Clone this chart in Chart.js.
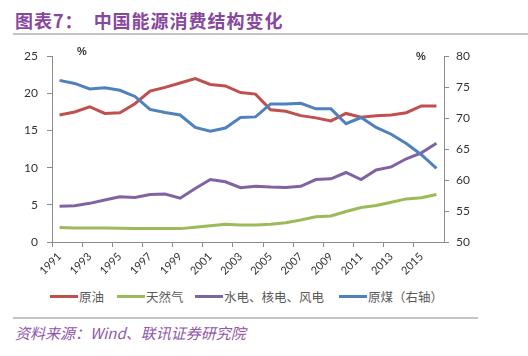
<!DOCTYPE html>
<html>
<head>
<meta charset="utf-8">
<script src="https://cdn.jsdelivr.net/npm/chart.js@4/dist/chart.umd.min.js"></script>
<style>
  html, body { margin:0; padding:0; background:#fff; }
  body { width:528px; height:356px; position:relative; overflow:hidden; font-family:"Noto Sans CJK SC","Noto Sans",sans-serif; }
  #title { position:absolute; left:15px; top:7px; font-size:18px; font-weight:bold; color:#87479d; white-space:nowrap; letter-spacing:1px; }
  #title .t2 { margin-left:10px; }
  .rule { position:absolute; height:2px; background:#c4c4c4; }
  #chartWrap { position:absolute; left:0; top:40px; width:528px; height:240px; }
  .pct { position:absolute; font-family:"Liberation Sans",sans-serif; font-size:11px; font-weight:bold; color:#333; }
  #legend { position:absolute; left:0; top:286px; width:528px; height:20px; }
  .lg-line { position:absolute; height:3px; top:9px; width:28px; }
  .lg-text { position:absolute; top:1px; font-size:12.5px; color:#5a5a5a; white-space:nowrap; }
  #source { position:absolute; left:15px; top:322px; font-size:15px; font-style:italic; color:#9057aa; white-space:nowrap; }
</style>
</head>
<body>
<div id="title">图表7：<span class="t2">中国能源消费结构变化</span></div>
<div class="rule" style="left:13px; top:33px; width:515px;"></div>
<div id="chartWrap"><canvas id="c" width="528" height="240"></canvas></div>
<div class="pct" style="left:77px; top:45px;">%</div>
<div class="pct" style="left:416px; top:50px;">%</div>
<div id="legend"></div>
<div class="rule" style="left:13px; top:317px; width:465px;"></div>
<div id="source">资料来源：Wind、联讯证券研究院</div>
<script>
const years = ["1991","1992","1993","1994","1995","1996","1997","1998","1999","2000","2001","2002","2003","2004","2005","2006","2007","2008","2009","2010","2011","2012","2013","2014","2015","2016"];
const seriesNames = ["原油","天然气","水电、核电、风电","原煤（右轴）"];
const oil   = [17.1,17.5,18.2,17.3,17.4,18.6,20.3,20.8,21.4,22.0,21.2,21.0,20.1,19.9,17.8,17.6,17.0,16.7,16.3,17.3,16.8,17.0,17.1,17.4,18.3,18.3];
const gas   = [1.95,1.9,1.9,1.9,1.85,1.8,1.8,1.8,1.8,2.0,2.2,2.4,2.3,2.3,2.4,2.6,2.95,3.4,3.5,4.1,4.65,4.9,5.35,5.8,5.95,6.4];
const renew = [4.8,4.87,5.2,5.65,6.1,6.0,6.4,6.45,5.9,7.2,8.4,8.1,7.3,7.5,7.4,7.35,7.5,8.4,8.5,9.35,8.4,9.7,10.1,11.2,12.0,13.3];
const coal  = [76.1,75.6,74.7,74.9,74.5,73.5,71.4,70.9,70.5,68.5,67.9,68.4,70.1,70.2,72.3,72.3,72.4,71.5,71.5,69.1,70.1,68.5,67.4,65.9,64.1,61.9];
const leftTicks = {min:0, max:25, step:5};
const rightTicks = {min:50, max:80, step:5};

const colors = ["#C0504D","#9BBB59","#8064A2","#4F81BD"];
const seriesData = [oil, gas, renew, coal];
const axisIds = ["y","y","y","y1"];

const datasets = seriesData.map((d,i)=>({
  label: seriesNames[i],
  data: d,
  yAxisID: axisIds[i],
  borderColor: colors[i],
  backgroundColor: colors[i],
  borderWidth: 3,
  pointRadius: 0,
  tension: 0,
  fill: false,
  order: 4 - i
}));

const axisColor = "#8c8c8c";
const tickFont = {family:"Lato, 'Liberation Sans', sans-serif", size:12};

new Chart(document.getElementById("c"), {
  type: "line",
  data: { labels: years, datasets },
  options: {
    responsive: false,
    animation: false,
    layout: { padding: { top:10, left:0, right:0, bottom:0 } },
    plugins: { legend: { display:false }, tooltip: { enabled:false } },
    scales: {
      x: {
        type: "category",
        offset: true,
        grid: {
          offset: true,
          drawOnChartArea: false,
          drawTicks: true,
          tickLength: 5,
          color: ctx => (ctx.index % 2 === 0 ? axisColor : "rgba(0,0,0,0)")
        },
        border: { color: axisColor, width: 1 },
        ticks: {
          autoSkip: false,
          maxRotation: 45,
          minRotation: 45,
          padding: 3,
          color: "#333",
          font: {family:"Lato, 'Liberation Sans', sans-serif", size:11},
          callback: function(v, i) { return i % 2 === 0 ? this.getLabelForValue(v) : ""; }
        },
        afterFit: s => { s.height = 38; }
      },
      y: {
        position: "left",
        min: leftTicks.min, max: leftTicks.max,
        grid: { drawOnChartArea:false, drawTicks:true, tickLength:5, color:axisColor },
        border: { color: axisColor, width: 1 },
        ticks: { stepSize: leftTicks.step, padding: 9, color:"#333", font: tickFont },
        afterFit: s => { s.width = 52; }
      },
      y1: {
        position: "right",
        min: rightTicks.min, max: rightTicks.max,
        grid: { drawOnChartArea:false, drawTicks:true, tickLength:5, color:axisColor },
        border: { color: axisColor, width: 1 },
        ticks: { stepSize: rightTicks.step, padding: 7, color:"#333", font: tickFont },
        afterFit: s => { s.width = 84; }
      }
    }
  }
});

// HTML legend built from the series arrays
const legendPos = [50, 117, 195, 339];
const lg = document.getElementById("legend");
seriesNames.forEach((n,i)=>{
  const l = document.createElement("div");
  l.className = "lg-line";
  l.style.left = legendPos[i] + "px";
  l.style.background = colors[i];
  lg.appendChild(l);
  const t = document.createElement("div");
  t.className = "lg-text";
  t.style.left = (legendPos[i] + 29) + "px";
  t.textContent = n;
  lg.appendChild(t);
});
</script>
</body>
</html>
